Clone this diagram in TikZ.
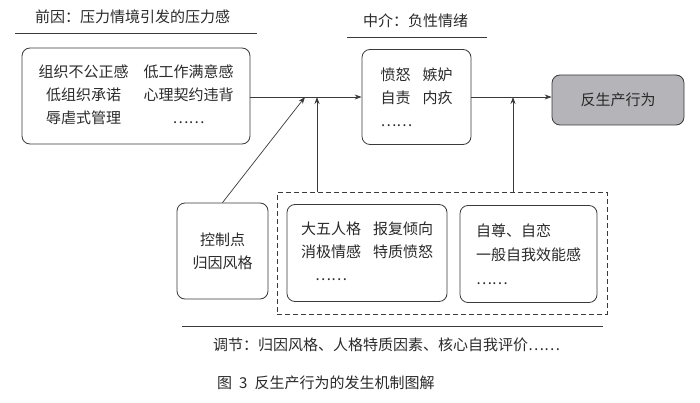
\documentclass[tikz,border=0pt]{standalone}
\usepackage{fontspec}
\newfontfamily\cjk{Noto Sans CJK SC}
\usetikzlibrary{arrows.meta, positioning, fit}
\definecolor{edge}{HTML}{3A3A3A}
\definecolor{ink}{HTML}{2A2A2A}
\definecolor{shade}{HTML}{B4B4B9}
\tikzset{
  n/.style={draw=edge, line width=0.8pt, rounded corners=8pt, align=center, font=\cjk\fontsize{15}{23}\selectfont, text=ink, inner sep=0pt, fill=white},
  nl/.style={n, align=left},
  ng/.style={n, fill=shade},
  grp/.style={draw=edge, line width=0.8pt, dash pattern=on 5pt off 3pt, inner xsep=9.5pt, inner ysep=11.5pt},
  a/.style={-{Stealth[length=7pt, width=5pt]}, draw=edge, line width=0.7pt},
  hd/.style={font=\cjk\fontsize{15}{18}\selectfont, text=ink, inner sep=0pt, anchor=west},
  rule/.style={draw=edge, line width=0.8pt},
}

\begin{document}
\begin{tikzpicture}[x=1pt, y=-1pt]
\fill[white] (0,0) rectangle (700,403);
\useasboundingbox (0,0) rectangle (700,403);

% headings
\node[hd] (ttlpre) at (35,17) {前因：压力情境引发的压力感};
\node[hd] (ttlmed) at (363,21) {中介：负性情绪};
\draw[rule] (15,33) -- (257,33);
\draw[rule] (347,37) -- (487,37);

% main row
\node[n, minimum width=228pt, minimum height=96pt] (stress) at (136,96)
  {\begin{tabular}{@{}c@{\hspace{15pt}}c@{}}
   组织不公正感 & 低工作满意感\\
   低组织承诺 & 心理契约违背\\
   辱虐式管理 & ……
   \end{tabular}};
\node[nl, minimum width=109pt, minimum height=95pt] (emo) at (416.5,97)
  {愤怒\hspace{12pt}嫉妒\\自责\hspace{12pt}内疚\\……};
\node[ng, minimum width=132pt, minimum height=50pt] (cwb) at (618,100) {反生产行为};

% moderators
\node[n, minimum width=91pt, minimum height=96pt] (ctrl) at (222.5,251) {控制点\\归因风格};
\node[n, minimum width=160pt, minimum height=97pt] (pers) at (367,253)
  {\begin{tabular}{@{}c@{\hspace{12pt}}c@{}}
   大五人格 & 报复倾向\\
   消极情感 & 特质愤怒\\
   …… &
   \end{tabular}};
\node[nl, minimum width=137pt, minimum height=97pt] (self) at (528.5,254)
  {自尊、自恋\\[1pt]一般自我效能感\\[1pt]……};
\node[grp, fit=(pers)(self)] (mod) {};

\coordinate (j1) at (305,97);
\coordinate (j2) at (317,97);
\coordinate (j3) at (513,97);

\draw[a] (stress.east |- j1) -- (emo.west |- j1);
\draw[a] (emo.east |- j3) -- (cwb.west |- j3);
\draw[a] (ctrl.north) -- (j1);
\draw[a] (mod.north -| j2) -- (j2);
\draw[a] (mod.north -| j3) -- (j3);

% bottom
\draw[rule] (182,326) -- (603,326);
\node[hd] (modttl) at (213,345) {调节：归因风格、人格特质因素、核心自我评价……};
\node[hd] (cap) at (217,383) {图\hspace{7pt}3\hspace{7pt}反生产行为的发生机制图解};
\end{tikzpicture}
\end{document}
